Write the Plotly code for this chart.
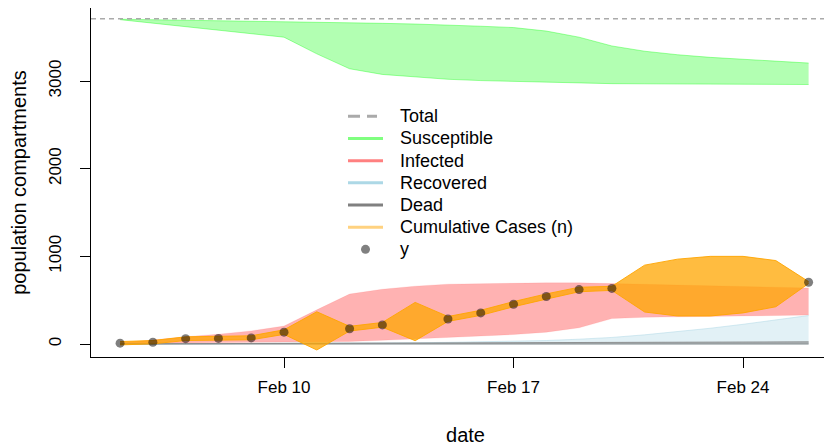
import plotly.graph_objects as go
import pandas as pd

dates = pd.date_range("2020-02-05", "2020-02-26", freq="D")
N_total = 3711

y_obs = [10, 20, 61, 64, 70, 135, None, 174, 218, None, 285, 355, 454, 542, 621, 634,
         None, None, None, None, None, 705]

S_lo = [3700, 3660, 3620, 3585, 3545, 3500, 3310, 3140, 3075, 3045, 3020, 3005, 2995,
        2985, 2975, 2970, 2968, 2965, 2963, 2962, 2960, 2960]
S_hi = [3705, 3700, 3695, 3690, 3685, 3680, 3672, 3665, 3658, 3650, 3640, 3625, 3610,
        3570, 3500, 3400, 3340, 3300, 3270, 3250, 3230, 3205]

I_lo = [5, 8, 10, 12, 14, 16, 22, 30, 42, 58, 76, 92, 108, 135, 185, 290, 305, 310,
        315, 320, 325, 330]
I_hi = [15, 45, 84, 112, 150, 205, 390, 570, 625, 660, 683, 690, 695, 698, 698, 690,
        685, 680, 672, 662, 652, 640]

R_lo = [0] * 22
R_hi = [0, 1, 2, 3, 4, 5, 7, 9, 12, 15, 19, 24, 30, 40, 55, 75, 105, 140, 180, 225,
        275, 325]

D_lo = [0] * 22
D_hi = [2, 3, 4, 5, 6, 7, 8, 9, 10, 11, 12, 13, 14, 15, 16, 17, 18, 19, 20, 22, 23, 25]

n_lo = [-10, 2, 40, 42, 48, 110, -68, 148, 192, 38, 258, 327, 425, 512, 596, 612,
        365, 320, 320, 355, 425, 690]
n_hi = [28, 40, 82, 86, 94, 162, 368, 202, 246, 475, 314, 385, 484, 572, 648, 658,
        900, 968, 1000, 1000, 952, 712]

x_range = ["2020-02-04 02:43", "2020-02-26 22:59"]
y_range = [-148, 3833]
x_ticks = ["2020-02-10", "2020-02-17", "2020-02-24"]
x_ticktext = ["Feb 10", "Feb 17", "Feb 24"]
y_ticks = [0, 1000, 2000, 3000]

legend_labels = ["Total", "Susceptible", "Infected", "Recovered", "Dead",
                 "Cumulative Cases (n)", "y"]
legend_colors = ["#aaaaaa", "#80ff80", "#ff8080", "#add8e6", "#808080", "#ffd280",
                 "#808080"]

FONT = "Liberation Sans, Arial, Helvetica, sans-serif"

# page offset (browser body margin) and plot box geometry in figure pixels
OFF = 8
ML, MT, PW, PH = 83, 0, 749, 349


def px(wx):
    return (wx - OFF - ML) / PW


def py(wy):
    return 1 - (wy - OFF - MT) / PH


fig = go.Figure()


def ribbon(lo, hi, fill, line, lw=1):
    fig.add_trace(go.Scatter(x=dates, y=lo, mode="lines", line=dict(color=line, width=lw),
                             showlegend=False, hoverinfo="skip"))
    fig.add_trace(go.Scatter(x=dates, y=hi, mode="lines", line=dict(color=line, width=lw),
                             fill="tonexty", fillcolor=fill, showlegend=False,
                             hoverinfo="skip"))


ribbon(S_lo, S_hi, "rgba(0,255,0,0.3)", "rgba(0,255,0,0.35)")
ribbon(I_lo, I_hi, "rgba(255,0,0,0.3)", "rgba(255,0,0,0.08)")
ribbon(R_lo, R_hi, "rgba(173,216,230,0.35)", "rgba(173,216,230,0.5)")
ribbon(D_lo, D_hi, "rgba(128,128,128,0.5)", "rgba(128,128,128,0.8)")
ribbon(n_lo, n_hi, "rgba(255,165,0,0.75)", "rgba(255,165,0,0.9)")

fig.add_trace(go.Scatter(x=dates, y=y_obs, mode="markers", name="y", showlegend=False,
                         marker=dict(color="rgba(0,0,0,0.5)", size=9, line=dict(width=0))))

fig.add_hline(y=N_total, line=dict(color="#aaaaaa", width=1.5, dash="5px,4px"))

# legend (drawn as in the original: line samples + labels)
row0, gap = 116.3, 22.17
for i, (lab, col) in enumerate(zip(legend_labels, legend_colors)):
    yy = py(row0 + i * gap)
    if lab == "y":
        fig.add_shape(type="circle", xref="paper", yref="paper",
                      x0=px(361), x1=px(370), y0=py(row0 + i * gap + 4.5),
                      y1=py(row0 + i * gap - 4.5), fillcolor=col, line=dict(width=0))
    else:
        fig.add_shape(type="line", xref="paper", yref="paper", x0=px(348),
                      x1=px(377 if lab == "Total" else 383),
                      y0=yy, y1=yy,
                      line=dict(color=col, width=3,
                                dash="12px,7px" if lab == "Total" else "solid"))
    fig.add_annotation(xref="paper", yref="paper", x=px(398), y=yy, text=lab,
                       showarrow=False, xanchor="left", yanchor="middle",
                       font=dict(size=18, color="black"))

fig.update_layout(
    width=832, height=446,
    margin=dict(l=ML, r=0, t=MT, b=446 - MT - PH),
    paper_bgcolor="white", plot_bgcolor="white",
    font=dict(family=FONT, size=17, color="black"),
    showlegend=False,
    xaxis=dict(type="date", range=x_range, showgrid=False, zeroline=False,
               showline=True, linecolor="black", linewidth=1, mirror=True,
               ticks="outside", ticklen=10, tickcolor="black",
               tickvals=x_ticks, ticktext=x_ticktext, ticklabelstandoff=5,
               title=dict(text="date", standoff=31)),
    yaxis=dict(range=y_range, showgrid=False, zeroline=False,
               showline=True, linecolor="black", linewidth=1,
               ticks="outside", ticklen=10, tickcolor="black",
               tickvals=y_ticks, tickangle=-90, ticklabelstandoff=12,
               title=dict(text="population compartments", standoff=19)),
)

fig.write_html("out.html")
